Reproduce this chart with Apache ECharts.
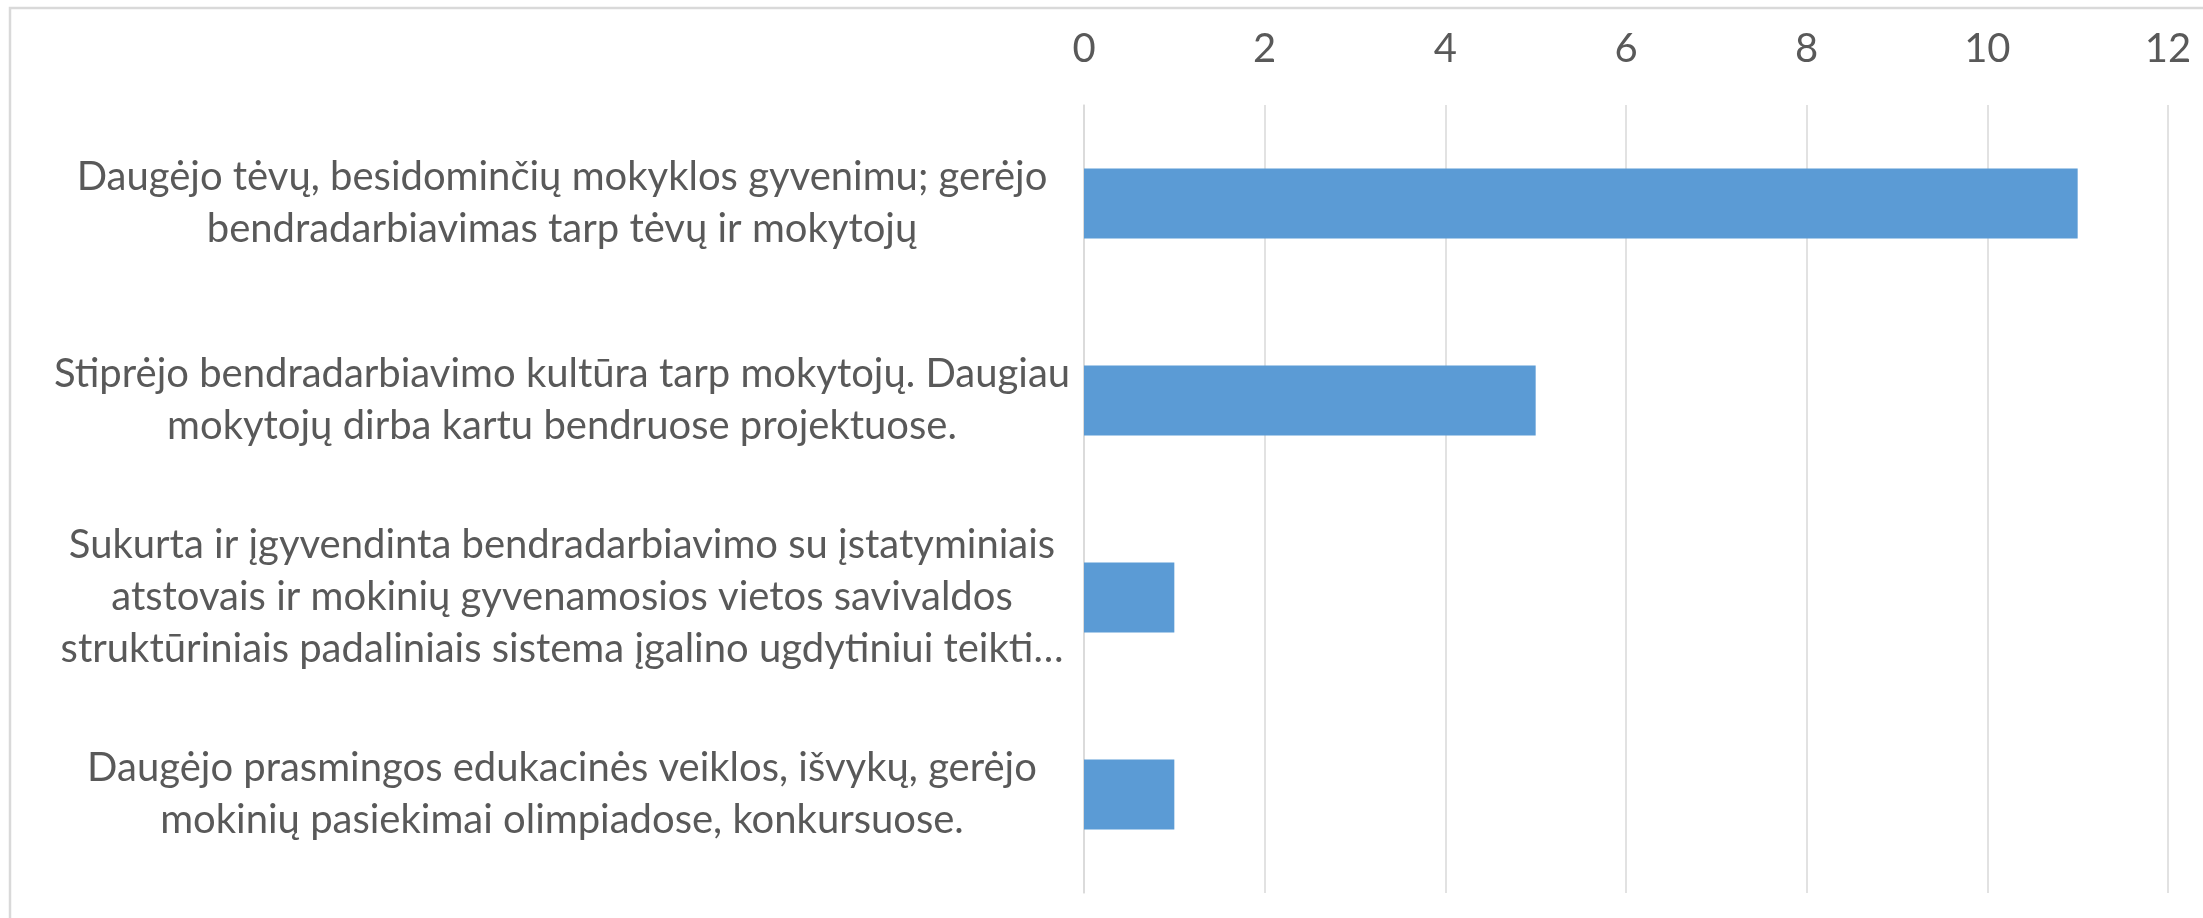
<!DOCTYPE html>
<html>
<head>
<meta charset="utf-8">
<script src="https://cdn.jsdelivr.net/npm/echarts@6/dist/echarts.min.js"></script>
<style>
  html, body { margin: 0; padding: 0; background: #fff; }
  #chart { width: 2203px; height: 918px; }
</style>
</head>
<body>
<div id="chart"></div>
<script>
const categories = [
  'Daugėjo tėvų, besidominčių mokyklos gyvenimu; gerėjo\nbendradarbiavimas tarp tėvų ir mokytojų',
  'Stiprėjo bendradarbiavimo kultūra tarp mokytojų. Daugiau\nmokytojų dirba kartu bendruose projektuose.',
  'Sukurta ir įgyvendinta bendradarbiavimo su įstatyminiais\natstovais ir mokinių gyvenamosios vietos savivaldos\nstruktūriniais padaliniais sistema įgalino ugdytiniui teikti…',
  'Daugėjo prasmingos edukacinės veiklos, išvykų, gerėjo\nmokinių pasiekimai olimpiadose, konkursuose.'
];
const values = [11, 5, 1, 1];
const axisMin = 0;
const axisMax = 12;
const axisStep = 2;

const chart = echarts.init(document.getElementById('chart'));
const textColor = '#595959';
const gridColor = '#d9d9d9';
const fontFamily = 'Lato, "Open Sans", sans-serif';

chart.setOption({
  animation: false,
  backgroundColor: '#fff',
  // light frame of the chart area (only top and left edges are in view)
  graphic: [{
    type: 'rect',
    shape: { x: 10, y: 8, width: 2300, height: 1000 },
    style: { fill: 'none', stroke: gridColor, lineWidth: 2.5 },
    silent: true
  }],
  grid: { left: 1084, right: 35, top: 105, bottom: 25 },
  xAxis: {
    type: 'value',
    position: 'top',
    min: axisMin,
    max: axisMax,
    interval: axisStep,
    axisLine: { show: false },
    axisTick: { show: false },
    axisLabel: { color: textColor, fontSize: 40, fontFamily: fontFamily, margin: 36 },
    splitLine: { lineStyle: { color: gridColor, width: 1.5 } }
  },
  yAxis: {
    type: 'category',
    inverse: true,
    data: categories,
    axisLine: { lineStyle: { color: gridColor, width: 1.5 } },
    axisTick: { show: false },
    axisLabel: {
      color: textColor,
      fontSize: 40,
      fontFamily: fontFamily,
      lineHeight: 52,
      align: 'center',
      margin: 522
    }
  },
  series: [{
    type: 'bar',
    data: values,
    barWidth: 70,
    itemStyle: { color: '#5b9bd5' }
  }]
});
</script>
</body>
</html>
